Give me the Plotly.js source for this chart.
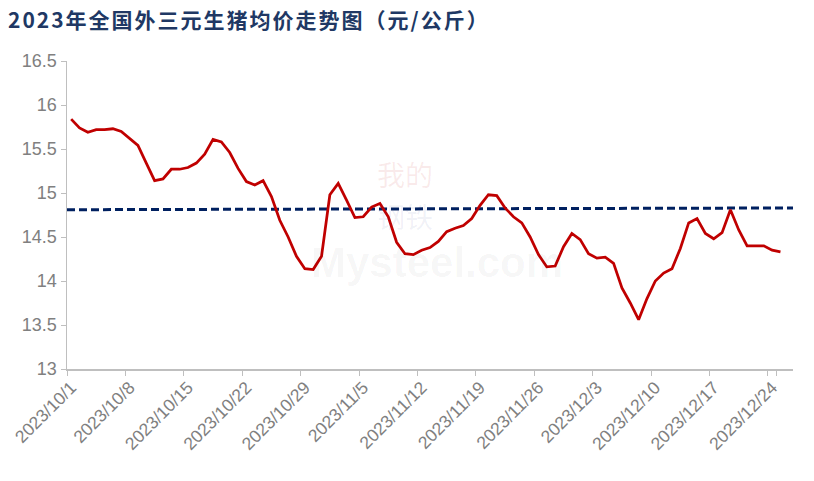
<!DOCTYPE html>
<html>
<head>
<meta charset="utf-8">
<script src="https://cdn.plot.ly/plotly-3.0.1.min.js"></script>
<style>
html,body{margin:0;padding:0;background:#fff;}
#chart{width:814px;height:481px;}
.gtitle{letter-spacing:2px;}
</style>
</head>
<body>
<div id="chart"></div>
<script>
// categories (daily dates)
const dates = [
"2023/10/1","2023/10/2","2023/10/3","2023/10/4","2023/10/5","2023/10/6","2023/10/7","2023/10/8","2023/10/9","2023/10/10",
"2023/10/11","2023/10/12","2023/10/13","2023/10/14","2023/10/15","2023/10/16","2023/10/17","2023/10/18","2023/10/19","2023/10/20",
"2023/10/21","2023/10/22","2023/10/23","2023/10/24","2023/10/25","2023/10/26","2023/10/27","2023/10/28","2023/10/29","2023/10/30",
"2023/10/31","2023/11/1","2023/11/2","2023/11/3","2023/11/4","2023/11/5","2023/11/6","2023/11/7","2023/11/8","2023/11/9",
"2023/11/10","2023/11/11","2023/11/12","2023/11/13","2023/11/14","2023/11/15","2023/11/16","2023/11/17","2023/11/18","2023/11/19",
"2023/11/20","2023/11/21","2023/11/22","2023/11/23","2023/11/24","2023/11/25","2023/11/26","2023/11/27","2023/11/28","2023/11/29",
"2023/11/30","2023/12/1","2023/12/2","2023/12/3","2023/12/4","2023/12/5","2023/12/6","2023/12/7","2023/12/8","2023/12/9",
"2023/12/10","2023/12/11","2023/12/12","2023/12/13","2023/12/14","2023/12/15","2023/12/16","2023/12/17","2023/12/18","2023/12/19",
"2023/12/20","2023/12/21","2023/12/22","2023/12/23","2023/12/24","2023/12/25"
];

// national average price of tri-cross live hogs (yuan/kg)
const prices = [
15.84,15.74,15.69,15.72,15.72,15.73,15.70,15.62,15.54,15.34,
15.14,15.16,15.27,15.27,15.29,15.34,15.44,15.61,15.58,15.46,
15.28,15.13,15.09,15.14,14.96,14.69,14.50,14.28,14.14,14.13,
14.28,14.98,15.11,14.92,14.72,14.73,14.84,14.88,14.73,14.44,
14.31,14.30,14.35,14.38,14.45,14.56,14.60,14.63,14.71,14.86,
14.98,14.97,14.83,14.73,14.66,14.50,14.30,14.16,14.17,14.39,
14.54,14.47,14.31,14.26,14.27,14.20,13.92,13.75,13.56,13.80,
14.00,14.09,14.14,14.37,14.66,14.71,14.54,14.48,14.55,14.81,
14.58,14.40,14.40,14.40,14.35,14.33
];

// dashed reference line (start, end values)
const refLine = [14.81, 14.83];

// x tick labels
const xTicks = ["2023/10/1","2023/10/8","2023/10/15","2023/10/22","2023/10/29","2023/11/5","2023/11/12",
"2023/11/19","2023/11/26","2023/12/3","2023/12/10","2023/12/17","2023/12/24"];
const yTicks = [13,13.5,14,14.5,15,15.5,16,16.5];
const yTickText = ["13","13.5","14","14.5","15","15.5","16","16.5"];

const trace = {
  x: dates, y: prices, type:"scatter", mode:"lines",
  line:{color:"#C00000", width:2.75}, hoverinfo:"x+y"
};

const layout = {
  width:814, height:481,
  margin:{l:67, r:21, t:61, b:112},
  paper_bgcolor:"#ffffff", plot_bgcolor:"#ffffff",
  showlegend:false,
  title:{
    text:"2023年全国外三元生猪均价走势图（元/公斤）",
    font:{family:"Noto Sans CJK SC, sans-serif", size:21, color:"#203864", weight:"bold"},
    xref:"container", yref:"container", x:8/814, xanchor:"left", y:1-21/481, yanchor:"middle"
  },
  xaxis:{
    type:"category", categoryorder:"array", categoryarray:dates,
    range:[-0.5, 86.5], autorange:false,
    tickmode:"array", tickvals:xTicks, ticktext:xTicks,
    tickson:"boundaries",
    tickangle:-45,
    tickfont:{family:"Liberation Sans, Arial, sans-serif", size:17.5, color:"#808080"},
    ticks:"outside", ticklen:5, tickcolor:"#BFBFBF", tickwidth:1,
    showline:true, linecolor:"#BFBFBF", linewidth:1.5,
    showgrid:false, zeroline:false
  },
  yaxis:{
    range:[13,16.5], autorange:false,
    tickmode:"array", tickvals:yTicks, ticktext:yTickText,
    tickfont:{family:"Liberation Sans, Arial, sans-serif", size:18, color:"#808080"},
    ticks:"outside", ticklen:5, tickcolor:"#BFBFBF", tickwidth:1,
    showline:true, linecolor:"#BFBFBF", linewidth:1.5,
    showgrid:false, zeroline:false
  },
  shapes:[{
    type:"line", xref:"paper", yref:"y", x0:0, x1:1, y0:refLine[0], y1:refLine[1],
    line:{color:"#002060", width:3, dash:"8px,4px"}, layer:"below"
  }],
  annotations:[
    {text:"我的", xref:"paper", yref:"paper", x:0.4656, y:(369-174)/308, showarrow:false,
     font:{family:"Noto Sans CJK SC, sans-serif", size:28, color:"rgba(200,40,40,0.09)"}},
    {text:"钢铁", xref:"paper", yref:"paper", x:0.4656, y:(369-216)/308, showarrow:false,
     font:{family:"Noto Sans CJK SC, sans-serif", size:28, color:"rgba(40,60,130,0.07)"}},
    {text:"Mysteel.com", xref:"paper", yref:"paper", x:0.51, y:(369-262)/308, showarrow:false,
     font:{family:"Liberation Sans, Arial, sans-serif", size:42, color:"rgba(0,0,0,0.04)", weight:"bold"}}
  ]
};

Plotly.newPlot("chart", [trace], layout, {displayModeBar:false, staticPlot:true});
</script>
</body>
</html>
